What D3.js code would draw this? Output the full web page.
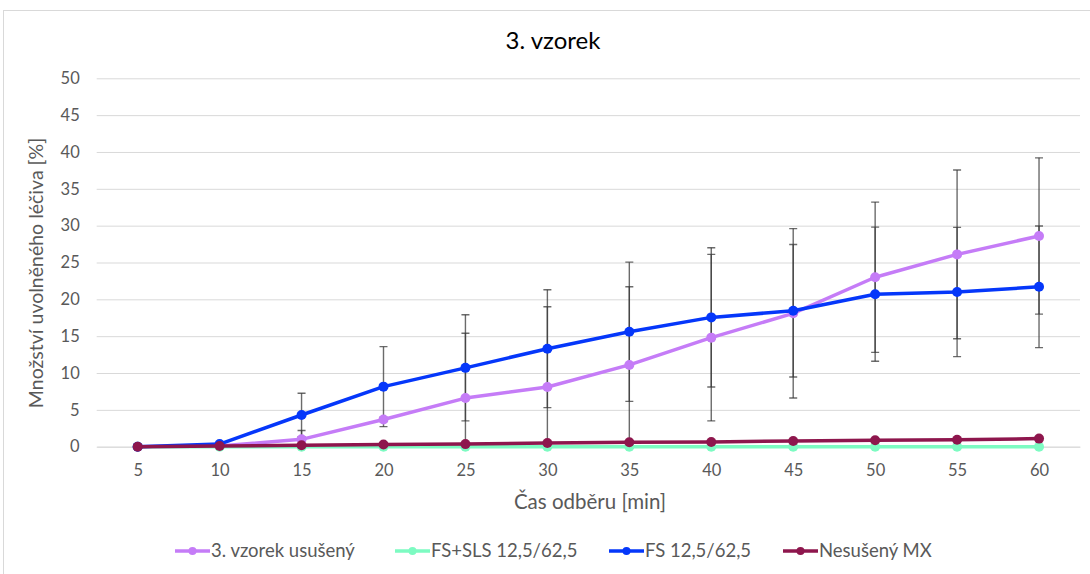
<!DOCTYPE html>
<html>
<head>
<meta charset="utf-8">
<script src="https://cdn.jsdelivr.net/npm/d3@7"></script>
<style>
  html, body { margin: 0; padding: 0; background: #fff; }
  svg { display: block; font-family: Lato, "Open Sans", sans-serif; }
</style>
</head>
<body>
<svg id="chart" width="1090" height="574"></svg>
<script>
// Odběrové časy [min]
const casy = [5, 10, 15, 20, 25, 30, 35, 40, 45, 50, 55, 60];

// Uvolněné léčivo [%] a směrodatné odchylky
const ususeny      = [0, 0.1, 1.0, 3.7, 6.6, 8.1, 11.1, 14.8, 18.1, 23.0, 26.1, 28.6];
const ususenySd    = [0, 0.1, 1.2, 0.3, 8.8, 10.9, 10.6, 11.3, 11.5, 10.2, 11.45, 10.6];
const fsSls        = [0, 0, 0, 0, 0, 0, 0, 0, 0, 0, 0, 0];
const fs           = [0, 0.35, 4.3, 8.15, 10.7, 13.3, 15.6, 17.55, 18.45, 20.7, 21.0, 21.7];
const fsSd         = [0, 0.1, 2.95, 5.43, 7.2, 8.0, 9.45, 9.45, 9.0, 9.1, 8.77, 8.25];
const nesuseny     = [0, 0.1, 0.2, 0.3, 0.35, 0.5, 0.6, 0.65, 0.77, 0.87, 0.95, 1.1];

const yTicks = [0, 5, 10, 15, 20, 25, 30, 35, 40, 45, 50];

const nazvySerii = ["3. vzorek usušený", "FS+SLS 12,5/62,5", "FS 12,5/62,5", "Nesušený MX"];
const barvy = ["#C57CF7", "#7DFBC2", "#0537FA", "#8E164D"];

const serie = [
  { nazev: nazvySerii[0], hodnoty: ususeny, sd: ususenySd, barva: barvy[0] },
  { nazev: nazvySerii[1], hodnoty: fsSls, sd: null, barva: barvy[1] },
  { nazev: nazvySerii[2], hodnoty: fs, sd: fsSd, barva: barvy[2] },
  { nazev: nazvySerii[3], hodnoty: nesuseny, sd: null, barva: barvy[3] }
];

const svg = d3.select("#chart");
const plot = { left: 96.7, right: 1080, top: 78.3, bottom: 446.7 };

const x = d3.scalePoint().domain(casy).range([plot.left, plot.right]).padding(0.5);
const y = d3.scaleLinear().domain([0, 50]).range([plot.bottom, plot.top]);

// rámeček grafu
svg.append("rect")
  .attr("x", 3.5).attr("y", 10.5).attr("width", 1100).attr("height", 600)
  .attr("fill", "#fff").attr("stroke", "#d9d9d9").attr("stroke-width", 1);

// nadpis
svg.append("text")
  .attr("x", 553).attr("y", 49)
  .attr("text-anchor", "middle")
  .attr("font-size", 24).attr("fill", "#000")
  .text("3. vzorek");

// mřížka a osa Y
const yAxis = d3.axisLeft(y).tickValues(yTicks).tickSize(-(plot.right - plot.left)).tickPadding(17);
const gy = svg.append("g").attr("transform", `translate(${plot.left},0)`).call(yAxis);
gy.select(".domain").remove();
gy.selectAll(".tick line").attr("stroke", "#d9d9d9").attr("stroke-width", 1);
gy.selectAll(".tick text").attr("fill", "#595959").attr("font-size", 16.5).attr("font-family", "Lato");

// osa X
const xAxis = d3.axisBottom(x).tickSize(0).tickPadding(18);
const gx = svg.append("g").attr("transform", `translate(0,${plot.bottom})`).call(xAxis);
gx.select(".domain").attr("stroke", "#d9d9d9");
gx.selectAll(".tick text").attr("fill", "#595959").attr("font-size", 16.5).attr("font-family", "Lato");

// názvy os
svg.append("text")
  .attr("x", 590).attr("y", 509)
  .attr("text-anchor", "middle").attr("font-size", 20.5).attr("fill", "#595959")
  .text("Čas odběru [min]");
svg.append("text")
  .attr("transform", `translate(43,273) rotate(-90)`)
  .attr("text-anchor", "middle").attr("font-size", 19.5).attr("fill", "#595959")
  .text("Množství uvolněného léčiva [%]");

// chybové úsečky omezené na oblast grafu
svg.append("clipPath").attr("id", "oblast")
  .append("rect").attr("x", plot.left).attr("y", plot.top - 20)
  .attr("width", plot.right - plot.left).attr("height", plot.bottom - plot.top + 20);

const chyby = svg.append("g").attr("clip-path", "url(#oblast)");
serie.filter(s => s.sd).forEach(s => {
  const g = chyby.append("g").attr("stroke", "#3a3a3a").attr("stroke-opacity", 0.75).attr("stroke-width", 1.4);
  casy.forEach((c, i) => {
    const cx = x(c), hi = y(s.hodnoty[i] + s.sd[i]), lo = y(s.hodnoty[i] - s.sd[i]);
    g.append("line").attr("x1", cx).attr("x2", cx).attr("y1", hi).attr("y2", lo);
    g.append("line").attr("x1", cx - 4).attr("x2", cx + 4).attr("y1", hi).attr("y2", hi);
    g.append("line").attr("x1", cx - 4).attr("x2", cx + 4).attr("y1", lo).attr("y2", lo);
  });
});

// čáry a značky
const cara = d3.line().x((d, i) => x(casy[i])).y(d => y(d));
serie.forEach(s => {
  const g = svg.append("g");
  g.append("path").datum(s.hodnoty)
    .attr("d", cara).attr("fill", "none")
    .attr("stroke", s.barva).attr("stroke-width", 3.5)
    .attr("stroke-linejoin", "round").attr("stroke-linecap", "round");
  g.selectAll("circle").data(s.hodnoty).join("circle")
    .attr("cx", (d, i) => x(casy[i])).attr("cy", d => y(d))
    .attr("r", 5).attr("fill", s.barva);
});

// legenda
const legX = [175, 395, 609, 783];
const leg = svg.append("g").attr("transform", "translate(0,551)");
serie.forEach((s, i) => {
  const g = leg.append("g").attr("transform", `translate(${legX[i]},0)`);
  g.append("line").attr("x1", 0).attr("x2", 35).attr("y1", 0).attr("y2", 0)
    .attr("stroke", s.barva).attr("stroke-width", 3.5);
  g.append("circle").attr("cx", 17.5).attr("cy", 0).attr("r", 4).attr("fill", s.barva);
  g.append("text").attr("x", 36).attr("y", 0).attr("dy", "0.35em")
    .attr("font-size", 18.5).attr("fill", "#595959").text(s.nazev);
});
</script>
</body>
</html>
